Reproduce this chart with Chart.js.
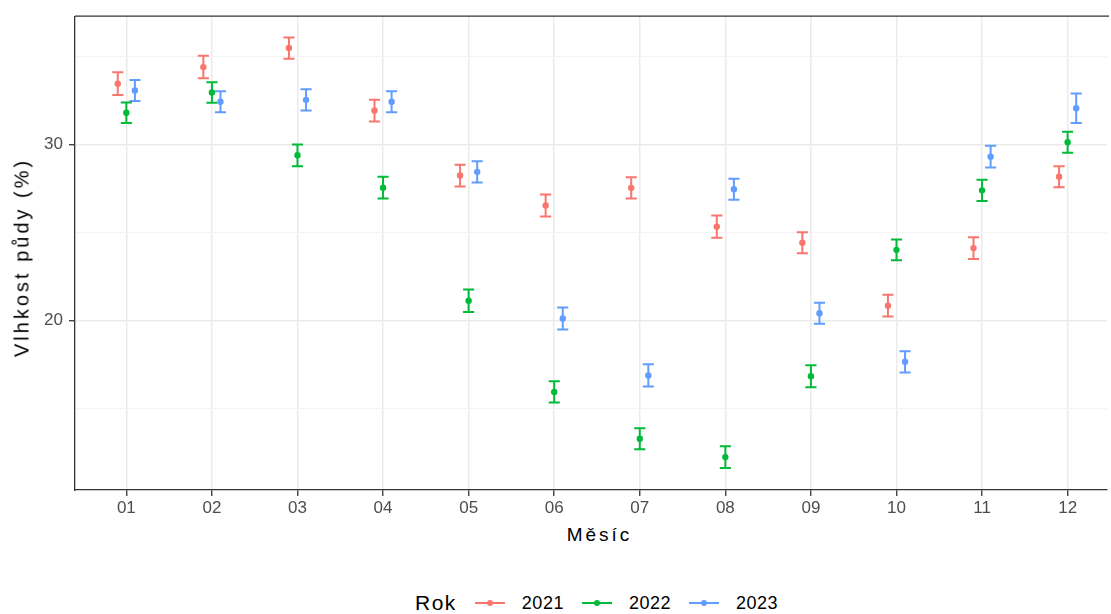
<!DOCTYPE html>
<html lang="cs">
<head>
<meta charset="utf-8">
<title>Vlhkost půdy</title>
<script src="https://cdn.jsdelivr.net/npm/chart.js@4.4.1/dist/chart.umd.min.js"></script>
<style>
  html, body { margin: 0; padding: 0; background: #fff; overflow: hidden; }
  body { width: 1111px; height: 614px; position: relative; font-family: "Liberation Sans", Arial, sans-serif; }
  #wrap { position: absolute; left: 0; top: 0; width: 1111px; height: 520px; }
  .axis-title { position: absolute; color: #000; white-space: nowrap; padding-left: 3px; }
  #xtitle { left: 598px; top: 535px; transform: translate(-50%, -50%); font-size: 19px; letter-spacing: 3px; }
  #ytitle { left: 22px; top: 259px; transform: translate(-50%, -50%) rotate(-90deg); font-size: 20px; letter-spacing: 3px; }
  #legend { position: absolute; left: 415px; top: 603px; transform: translateY(-50%); display: flex; align-items: center; color: #000; }
  #legend .head { font-size: 21px; letter-spacing: 1.5px; margin-right: 18px; }
  #legend .key { position: relative; width: 30px; height: 2px; margin-right: 17px; }
  #legend .key i { position: absolute; left: 12px; top: -2px; width: 6px; height: 6px; border-radius: 50%; }
  #legend .lab { font-size: 18px; letter-spacing: 0.5px; margin-right: 18px; }
</style>
</head>
<body>
<div id="wrap"><canvas id="chart"></canvas></div>
<div id="xtitle" class="axis-title">Měsíc</div>
<div id="ytitle" class="axis-title">Vlhkost půdy (%)</div>
<div id="legend"><span class="head">Rok</span></div>
<script>
// osa x – měsíce, legenda – roky
const months = ['01', '02', '03', '04', '05', '06', '07', '08', '09', '10', '11', '12'];
const years = ['2021', '2022', '2023'];

// průměrná vlhkost půdy (%) a polovina chybové úsečky
const mean2021 = [33.47, 34.41, 35.49, 31.94, 28.25, 26.55, 27.55, 25.35, 24.43, 20.86, 24.13, 28.18];
const mean2022 = [31.82, 32.97, 29.40, 27.56, 21.14, 15.96, 13.30, 12.26, 16.85, 24.03, 27.41, 30.14];
const mean2023 = [33.08, 32.44, 32.55, 32.44, 28.46, 20.13, 16.90, 27.47, 20.43, 17.67, 29.32, 32.07];
const err2021 = [0.64, 0.64, 0.60, 0.62, 0.62, 0.63, 0.60, 0.63, 0.60, 0.62, 0.62, 0.60];
const err2022 = [0.58, 0.58, 0.62, 0.62, 0.64, 0.60, 0.60, 0.62, 0.63, 0.59, 0.60, 0.60];
const err2023 = [0.60, 0.60, 0.60, 0.60, 0.60, 0.62, 0.63, 0.60, 0.60, 0.60, 0.62, 0.84];

const yTicks = [15, 20, 25, 30, 35];

const means = [mean2021, mean2022, mean2023];
const errs = [err2021, err2022, err2023];
const colors = ['#F8766D', '#00BA38', '#619CFF'];
const dodge = [-0.1, 0, 0.1];
const capHalf = 0.065;

function pointData(k) {
  return means[k].map((m, i) => ({ x: i + 1 + dodge[k], y: m }));
}

// each error bar = vertical stem + two caps, separated by gaps
function barData(k) {
  const out = [];
  means[k].forEach((m, i) => {
    const x = i + 1 + dodge[k];
    const lo = m - errs[k][i];
    const hi = m + errs[k][i];
    out.push(
      { x: x, y: lo }, { x: x, y: hi }, { x: x, y: null },
      { x: x - capHalf, y: hi }, { x: x + capHalf, y: hi }, { x: x, y: null },
      { x: x - capHalf, y: lo }, { x: x + capHalf, y: lo }, { x: x, y: null }
    );
  });
  return out;
}

const datasets = [];
years.forEach((year, k) => {
  datasets.push({
    label: year,
    data: pointData(k),
    showLine: false,
    pointRadius: 3.2,
    pointBackgroundColor: colors[k],
    pointBorderWidth: 0,
  });
});
years.forEach((year, k) => {
  datasets.push({
    label: year + ' chyba',
    data: barData(k),
    showLine: true,
    spanGaps: false,
    borderColor: colors[k],
    borderWidth: 2,
    pointRadius: 0,
  });
});

// top edge of the panel (right edge lies outside the picture)
const panelBorder = {
  id: 'panelBorder',
  afterDatasetsDraw(chart) {
    const { ctx, chartArea } = chart;
    ctx.save();
    ctx.strokeStyle = '#333333';
    ctx.lineWidth = 1.3;
    ctx.beginPath();
    ctx.moveTo(chartArea.left, chartArea.top);
    ctx.lineTo(chartArea.right + 2, chartArea.top);
    ctx.stroke();
    ctx.restore();
  },
};

const tickFont = { family: '"Liberation Sans", Arial, sans-serif', size: 17 };

new Chart(document.getElementById('chart'), {
  type: 'scatter',
  data: { datasets: datasets },
  options: {
    responsive: true,
    maintainAspectRatio: false,
    animation: false,
    events: [],
    layout: { padding: { top: 12, right: 1, left: 0, bottom: 0 } },
    plugins: {
      legend: { display: false },
      tooltip: { enabled: false },
    },
    scales: {
      x: {
        type: 'linear',
        min: 0.4,
        max: 12.46,
        afterBuildTicks: (axis) => {
          axis.ticks = months.map((m, i) => ({ value: i + 1 }));
        },
        afterFit: (axis) => { axis.height = 30; },
        ticks: {
          font: tickFont,
          color: '#4d4d4d',
          padding: 2,
          maxRotation: 0,
          callback: (v) => months[Math.round(v) - 1],
        },
        grid: { color: '#ebebeb', lineWidth: 1.5, tickLength: 6, tickColor: '#333333', tickWidth: 1.3 },
        border: { display: true, color: '#333333', width: 1.3 },
      },
      y: {
        min: 10.39,
        max: 37.3,
        afterBuildTicks: (axis) => {
          axis.ticks = yTicks.map((v) => ({ value: v }));
        },
        afterFit: (axis) => { axis.width = 75; },
        ticks: {
          font: tickFont,
          color: '#4d4d4d',
          padding: 6,
          callback: (v) => (v % 10 === 0 ? String(v) : ''),
        },
        grid: {
          color: (c) => (c.tick && c.tick.value % 10 === 0 ? '#ebebeb' : '#f3f3f3'),
          lineWidth: (c) => (c.tick && c.tick.value % 10 === 0 ? 1.5 : 1),
          tickLength: 6,
          tickColor: (c) => (c.tick && c.tick.value % 10 === 0 ? '#333333' : 'rgba(0,0,0,0)'),
          tickWidth: 1.3,
        },
        border: { display: true, color: '#333333', width: 1.3 },
      },
    },
  },
  plugins: [panelBorder],
});

// legenda
const legend = document.getElementById('legend');
years.forEach((year, k) => {
  const key = document.createElement('span');
  key.className = 'key';
  key.style.background = colors[k];
  const dot = document.createElement('i');
  dot.style.background = colors[k];
  key.appendChild(dot);
  const lab = document.createElement('span');
  lab.className = 'lab';
  lab.textContent = year;
  legend.appendChild(key);
  legend.appendChild(lab);
});
</script>
</body>
</html>
